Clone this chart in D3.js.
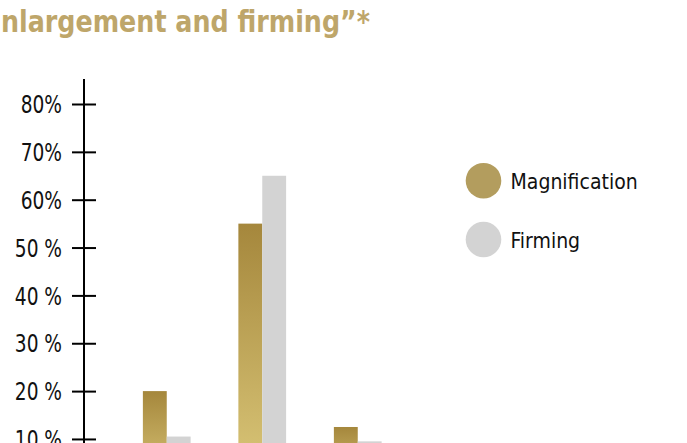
<!DOCTYPE html>
<html><head><meta charset="utf-8">
<script src="https://cdn.jsdelivr.net/npm/d3@7"></script>
<style>
html,body{margin:0;padding:0;background:#fff;overflow:hidden;}
svg{display:block;}
</style></head>
<body>
<svg id="chart" width="687" height="443"></svg>
<script>
const titleText = "nlargement and firming\u201d*";
const categories = ["Group 1", "Group 2", "Group 3"];
const seriesNames = ["Magnification", "Firming"];
const magnification = [20, 55, 12.5];
const firming = [10.5, 65, 9.5];
const tickValues = [10, 20, 30, 40, 50, 60, 70, 80];
const tickLabels = ["10 %", "20 %", "30 %", "40 %", "50 %", "60%", "70%", "80%"];

const svg = d3.select("#chart");
const font = "'DejaVu Sans Condensed','Roboto',sans-serif";

const y = d3.scaleLinear().domain([0, 80]).range([486.8, 104]);
const x0 = d3.scaleBand().domain(categories).range([119, 405.5]).paddingInner(0.5).paddingOuter(0.25);
const x1 = d3.scaleBand().domain(seriesNames).range([0, x0.bandwidth()]);
const color = d3.scaleOrdinal().domain(seriesNames).range(["#b39d5e", "#d3d3d3"]);

const defs = svg.append("defs");
const grad = defs.append("linearGradient").attr("id", "goldGrad")
  .attr("x1", 0).attr("y1", 0).attr("x2", 0).attr("y2", 1);
grad.append("stop").attr("offset", "0%").attr("stop-color", "#a5873c");
grad.append("stop").attr("offset", "100%").attr("stop-color", "#dcc97b");

// Title (visible part)
svg.append("text")
  .attr("x", 1).attr("y", 32)
  .attr("font-family", font)
  .attr("font-weight", "bold")
  .attr("font-size", 31)
  .attr("fill", "#bea66a")
  .attr("textLength", 369).attr("lengthAdjust", "spacingAndGlyphs")
  .text(titleText);

// Bars
const data = categories.map((c, i) => ({cat: c, vals: [
  {key: "Magnification", v: magnification[i]},
  {key: "Firming", v: firming[i]}
]}));
const groups = svg.append("g").selectAll("g").data(data).join("g")
  .attr("transform", d => `translate(${x0(d.cat)},0)`);
groups.selectAll("rect").data(d => d.vals).join("rect")
  .attr("x", d => x1(d.key))
  .attr("y", d => y(d.v))
  .attr("width", x1.bandwidth())
  .attr("height", d => y(0) - y(d.v))
  .attr("fill", d => d.key === "Magnification" ? "url(#goldGrad)" : color(d.key));

// Axis
const axis = d3.axisLeft(y).tickValues(tickValues)
  .tickFormat((d, i) => tickLabels[i]).tickSize(0).tickPadding(22);
const ax = svg.append("g").attr("transform", "translate(84,0)").call(axis);
ax.select(".domain").remove();
ax.append("line").attr("x1", 0).attr("x2", 0).attr("y1", 79).attr("y2", 500)
  .attr("stroke", "#000").attr("stroke-width", 2);
ax.selectAll(".tick").append("line")
  .attr("x1", -12).attr("x2", 12).attr("stroke", "#000").attr("stroke-width", 2);
ax.selectAll(".tick text")
  .attr("font-family", font).attr("font-size", 24).attr("fill", "#111")
  .attr("dy", "0.36em")
  .each(function() {
    const w = this.getComputedTextLength();
    d3.select(this).attr("textLength", w * 0.86).attr("lengthAdjust", "spacingAndGlyphs");
  });

// Legend
const legend = svg.append("g").selectAll("g").data(seriesNames).join("g")
  .attr("transform", (d, i) => `translate(483.5,${180.7 + i * 58.8})`);
legend.append("circle").attr("r", 17.8).attr("fill", d => color(d));
legend.append("text").attr("x", 27).attr("y", 8)
  .attr("font-family", font).attr("font-size", 21).attr("fill", "#111")
  .text(d => d);
</script>
</body></html>
